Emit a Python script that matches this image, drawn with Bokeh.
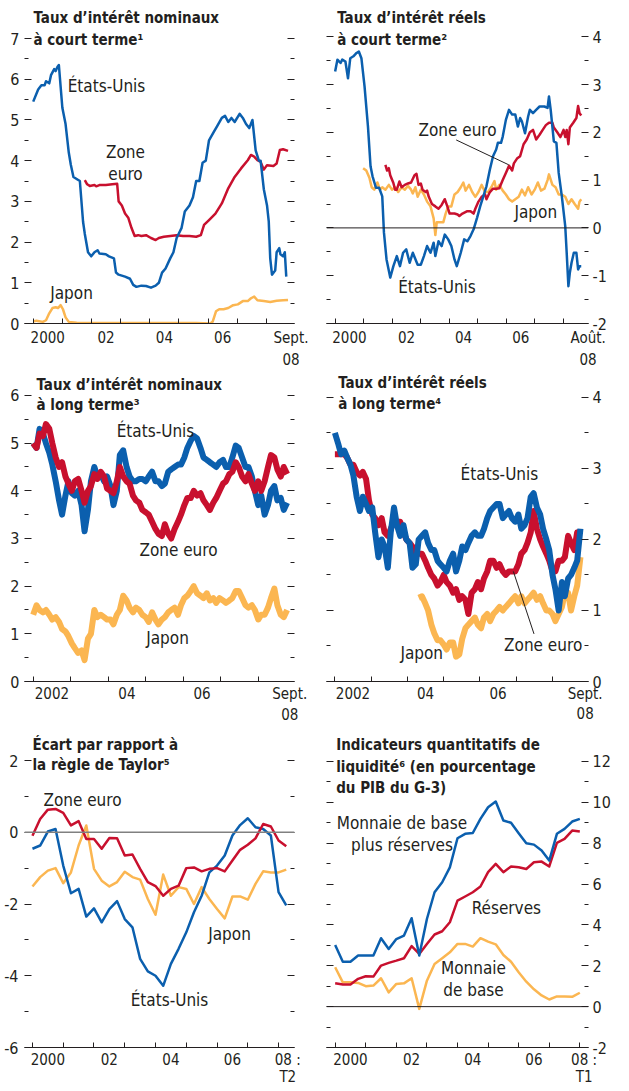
from bokeh.plotting import figure
from bokeh.layouts import gridplot
from bokeh.models import Range1d, LinearAxis, FixedTicker, Label, Span, CustomJSTickFormatter
from bokeh.embed import file_html
from bokeh.resources import INLINE

FONT = "DejaVu Sans Condensed, Liberation Sans, sans-serif"
INK = "#231f20"
BLUE = "#0b5fae"
RED = "#c8102e"
YELLOW = "#fbb651"

# ---------------- Panel 1 : short-term nominal rates ----------------
p1_us_t = [2000.00, 2000.17, 2000.28, 2000.39, 2000.44, 2000.55, 2000.61, 2000.72, 2000.77, 2000.83,
           2000.88, 2001.00, 2001.11, 2001.22, 2001.29, 2001.38, 2001.49, 2001.60, 2001.71, 2001.77,
           2001.88, 2001.99, 2002.10, 2002.21, 2002.27, 2002.49, 2002.60, 2002.77, 2002.84, 2002.93,
           2003.15, 2003.32, 2003.43, 2003.54, 2003.71, 2003.87, 2004.04, 2004.20, 2004.31, 2004.42,
           2004.54, 2004.70, 2004.81, 2004.92, 2005.09, 2005.20, 2005.36, 2005.48, 2005.59, 2005.70,
           2005.81, 2005.92, 2006.03, 2006.19, 2006.31, 2006.47, 2006.58, 2006.69, 2006.80, 2006.91,
           2007.08, 2007.19, 2007.30, 2007.41, 2007.52, 2007.63, 2007.74, 2007.80, 2007.91, 2008.02,
           2008.08, 2008.13, 2008.19, 2008.30, 2008.35, 2008.44, 2008.48, 2008.57, 2008.63, 2008.68]
p1_us_v = [5.45, 5.75, 5.85, 5.85, 5.95, 5.9, 6.1, 6.25, 6.2, 6.3,
           6.35, 5.3, 4.9, 4.2, 3.9, 3.6, 3.55, 3.5, 2.5, 2.2,
           1.75, 1.65, 1.75, 1.8, 1.72, 1.7, 1.65, 1.6, 1.25, 1.2,
           1.15, 1.1, 0.95, 0.9, 0.93, 0.92, 0.88, 0.93, 1.0, 1.25,
           1.35, 1.6, 1.75, 2.1, 2.35, 2.75, 2.9, 3.1, 3.5, 3.5,
           3.95, 4.0, 4.5, 4.7, 4.85, 5.05, 5.1, 4.95, 5.05, 4.95,
           5.15, 5.05, 4.9, 4.8, 5.0, 4.25, 4.0, 4.0, 3.3, 2.9,
           2.5, 1.6, 1.2, 1.3, 1.75, 1.85, 1.7, 1.65, 1.75, 1.15]
p1_eu_t = [2001.77, 2001.85, 2001.94, 2002.10, 2002.16, 2002.27, 2002.49, 2002.71, 2002.88, 2002.93,
           2003.04, 2003.15, 2003.26, 2003.37, 2003.48, 2003.60, 2003.71, 2003.87, 2004.04, 2004.20,
           2004.31, 2004.48, 2004.70, 2004.92, 2005.14, 2005.36, 2005.59, 2005.75, 2005.86, 2006.03,
           2006.25, 2006.47, 2006.69, 2006.91, 2007.13, 2007.36, 2007.47, 2007.58, 2007.69, 2007.80,
           2007.91, 2008.02, 2008.24, 2008.35, 2008.46, 2008.57, 2008.74]
p1_eu_v = [3.52, 3.42, 3.38, 3.40, 3.37, 3.40, 3.40, 3.42, 3.43, 3.0,
           2.9, 2.7, 2.6, 2.35, 2.15, 2.17, 2.15, 2.17, 2.1, 2.05,
           2.1, 2.13, 2.15, 2.17, 2.15, 2.15, 2.13, 2.17, 2.42, 2.54,
           2.7, 2.95, 3.32, 3.6, 3.81, 4.01, 4.14, 4.1, 4.01, 3.97,
           3.78, 3.89, 3.87, 3.93, 4.26, 4.28, 4.24]
p1_jp_t = [2000.00, 2000.11, 2000.33, 2000.44, 2000.55, 2000.66, 2000.77, 2000.85, 2000.94, 2001.02,
           2001.11, 2001.22, 2001.49, 2002.27, 2003.37, 2004.48, 2005.59, 2006.08, 2006.16, 2006.27,
           2006.38, 2006.53, 2006.69, 2006.86, 2007.02, 2007.19, 2007.36, 2007.47, 2007.58, 2007.69,
           2007.91, 2008.13, 2008.35, 2008.57, 2008.74]
p1_jp_v = [0.05, 0.07, 0.04, 0.08, 0.25, 0.38, 0.4, 0.38, 0.45, 0.35,
           0.15, 0.04, 0.02, 0.01, 0.01, 0.01, 0.01, 0.0, 0.05, 0.3,
           0.35, 0.35, 0.38, 0.45, 0.47, 0.55, 0.55, 0.62, 0.66, 0.57,
           0.55, 0.53, 0.56, 0.57, 0.58]

# ---------------- Panel 2 : short-term real rates ----------------
p2_us_t = [2000.00, 2000.08, 2000.19, 2000.25, 2000.36, 2000.45, 2000.53, 2000.64, 2000.75, 2000.83,
           2000.92, 2001.03, 2001.15, 2001.24, 2001.31, 2001.43, 2001.54, 2001.65, 2001.71, 2001.80,
           2001.93, 2002.04, 2002.16, 2002.27, 2002.38, 2002.49, 2002.61, 2002.72, 2002.89, 2003.00,
           2003.11, 2003.22, 2003.34, 2003.45, 2003.51, 2003.62, 2003.73, 2003.84, 2003.96, 2004.07,
           2004.18, 2004.26, 2004.40, 2004.52, 2004.63, 2004.74, 2004.85, 2004.97, 2005.08, 2005.19,
           2005.30, 2005.42, 2005.53, 2005.64, 2005.70, 2005.81, 2005.87, 2005.98, 2006.09, 2006.20,
           2006.31, 2006.40, 2006.48, 2006.54, 2006.65, 2006.76, 2006.82, 2006.93, 2007.04, 2007.16,
           2007.33, 2007.44, 2007.49, 2007.55, 2007.66, 2007.75, 2007.83, 2007.94, 2008.06, 2008.11,
           2008.17, 2008.22, 2008.28, 2008.36, 2008.45, 2008.51, 2008.56, 2008.62]
p2_us_v = [3.27, 3.52, 3.45, 3.52, 3.48, 3.13, 3.55, 3.59, 3.66, 3.69,
           3.55, 2.96, 2.12, 1.29, 1.08, 0.84, 0.84, 0.66, -0.1, -0.66,
           -1.04, -0.8, -0.59, -0.8, -0.52, -0.45, -0.73, -0.52, -0.77, -0.77,
           -0.59, -0.38, -0.52, -0.31, -0.59, -0.28, -0.38, -0.14, -0.24, -0.38,
           -0.66, -0.8, -0.52, -0.24, -0.28, -0.17, -0.03, 0.21, 0.45, 0.66,
           0.87, 1.22, 1.5, 1.64, 1.78, 1.78, 1.91, 2.26, 2.47, 2.37,
           2.37, 2.12, 2.3, 2.23, 1.98, 2.33, 2.47, 2.4, 2.47, 2.54,
           2.54, 2.51, 2.75, 2.47, 1.81, 1.78, 1.15, 0.66, 0.03, -0.52,
           -1.22, -0.94, -0.73, -0.52, -0.52, -0.87, -0.8, -0.8]
p2_eu_t = [2001.76, 2001.82, 2001.88, 2001.93, 2002.04, 2002.10, 2002.16, 2002.25, 2002.33, 2002.44,
           2002.55, 2002.66, 2002.78, 2002.85, 2002.92, 2003.00, 2003.06, 2003.17, 2003.22, 2003.28,
           2003.39, 2003.51, 2003.62, 2003.73, 2003.84, 2003.93, 2004.01, 2004.18, 2004.29, 2004.35,
           2004.46, 2004.63, 2004.74, 2004.85, 2004.91, 2005.02, 2005.13, 2005.25, 2005.30, 2005.42,
           2005.53, 2005.64, 2005.75, 2005.87, 2005.98, 2006.09, 2006.20, 2006.26, 2006.37, 2006.48,
           2006.60, 2006.71, 2006.82, 2006.93, 2007.04, 2007.16, 2007.27, 2007.38, 2007.49, 2007.61,
           2007.66, 2007.78, 2007.89, 2008.00, 2008.06, 2008.11, 2008.17, 2008.22, 2008.34, 2008.45,
           2008.51, 2008.56, 2008.62]
p2_eu_v = [1.32, 1.2, 1.25, 1.1, 0.94, 0.8, 0.8, 0.97, 0.85, 0.9,
           0.93, 0.95, 1.1, 1.13, 0.9, 0.93, 0.8, 0.75, 0.78, 0.65,
           0.5, 0.45, 0.4, 0.48, 0.6, 0.45, 0.3, 0.3, 0.28, 0.25,
           0.3, 0.35, 0.35, 0.3, 0.4, 0.55, 0.65, 0.7, 0.6, 0.75,
           0.82, 0.82, 0.83, 1.0, 1.15, 1.3, 1.2, 1.35, 1.45, 1.5,
           1.75, 1.85, 2.0, 2.05, 1.85, 1.95, 2.05, 2.15, 2.2, 2.2,
           2.1, 2.0, 1.9, 2.05, 1.9, 2.05, 1.75, 2.1, 2.2, 2.3,
           2.55, 2.4, 2.35]
p2_jp_t = [2000.98, 2001.09, 2001.20, 2001.28, 2001.37, 2001.48, 2001.57, 2001.65, 2001.76, 2001.88,
           2001.99, 2002.10, 2002.21, 2002.33, 2002.44, 2002.55, 2002.66, 2002.72, 2002.81, 2002.89,
           2003.00, 2003.11, 2003.22, 2003.34, 2003.45, 2003.51, 2003.56, 2003.67, 2003.79, 2003.87,
           2003.96, 2004.07, 2004.18, 2004.29, 2004.40, 2004.49, 2004.57, 2004.69, 2004.80, 2004.91,
           2005.02, 2005.13, 2005.25, 2005.36, 2005.47, 2005.58, 2005.64, 2005.75, 2005.87, 2005.98,
           2006.09, 2006.20, 2006.31, 2006.43, 2006.54, 2006.65, 2006.76, 2006.88, 2006.99, 2007.10,
           2007.21, 2007.33, 2007.44, 2007.49, 2007.61, 2007.72, 2007.83, 2007.94, 2008.06, 2008.17,
           2008.28, 2008.39, 2008.51, 2008.56, 2008.62]
p2_jp_v = [1.25, 1.2, 1.05, 0.85, 0.8, 0.95, 0.8, 0.85, 0.8, 0.9,
           0.8, 0.85, 0.75, 0.85, 0.8, 0.88, 0.8, 0.72, 0.85, 0.65,
           0.8, 0.7, 0.55, 0.45, 0.2, -0.15, 0.12, 0.12, 0.12, 0.3,
           0.45, 0.45, 0.7, 0.75, 0.85, 0.95, 0.78, 0.9, 0.75, 0.65,
           0.75, 0.9, 0.75, 0.75, 0.85, 0.98, 0.8, 0.9, 0.78, 0.7,
           0.6, 0.55, 0.6, 0.65, 0.8, 0.68, 0.85, 0.7, 0.8, 0.95,
           0.78, 0.82, 1.0, 1.12, 0.9, 0.85, 0.7, 0.7, 0.65, 0.5,
           0.6, 0.5, 0.4, 0.55, 0.6]

# ---------------- Panels 3 and 4 : long-term rates (shared dates) ----------------
long_t = [2002.00, 2002.09, 2002.17, 2002.26, 2002.34, 2002.43, 2002.51, 2002.60, 2002.69, 2002.77,
          2002.86, 2002.94, 2003.03, 2003.11, 2003.20, 2003.29, 2003.37, 2003.46, 2003.54, 2003.63,
          2003.71, 2003.80, 2003.89, 2003.97, 2004.06, 2004.14, 2004.23, 2004.31, 2004.40, 2004.49,
          2004.57, 2004.66, 2004.74, 2004.83, 2004.91, 2005.00, 2005.08, 2005.17, 2005.26, 2005.34,
          2005.43, 2005.51, 2005.60, 2005.68, 2005.77, 2005.86, 2005.94, 2006.03, 2006.11, 2006.20,
          2006.28, 2006.37, 2006.46, 2006.54, 2006.63, 2006.71, 2006.80, 2006.88, 2006.97, 2007.06,
          2007.14, 2007.23, 2007.31, 2007.40, 2007.48, 2007.57, 2007.66, 2007.74, 2007.83, 2007.91,
          2008.00, 2008.08, 2008.17, 2008.26, 2008.34, 2008.43, 2008.51, 2008.60, 2008.68, 2008.77]
p3_us = [5.0, 4.9, 5.3, 5.2, 5.0, 4.8, 4.55, 4.2, 3.8, 3.5,
         3.9, 4.2, 3.95, 3.9, 4.0, 3.7, 3.15, 3.6, 4.2, 4.5,
         4.3, 4.35, 4.2, 4.3, 4.1, 3.7, 4.0, 4.75, 4.85, 4.5,
         4.3, 4.2, 4.2, 4.25, 4.25, 4.2, 4.3, 4.4, 4.2, 4.2,
         4.1, 4.15, 4.4, 4.45, 4.5, 4.55, 4.55, 4.7, 4.9, 5.05,
         5.15, 5.1, 4.9, 4.7, 4.65, 4.6, 4.55, 4.5, 4.6, 4.65,
         4.5, 4.5, 4.7, 4.95, 4.9, 4.7, 4.5, 4.5, 4.3, 4.0,
         3.7, 3.9, 3.5, 3.7, 4.0, 4.1, 3.8, 3.85, 3.6, 3.75]
p3_eu = [5.0, 4.9, 5.2, 5.15, 5.4, 5.3, 5.0, 4.7, 4.5, 4.6,
         4.3, 4.15, 4.0, 4.2, 4.25, 4.0, 3.75, 4.0, 4.1, 4.35,
         4.25, 4.4, 4.3, 4.05, 4.0, 3.95, 4.2, 4.5, 4.3, 4.2,
         4.15, 3.9, 3.8, 3.75, 3.6, 3.55, 3.5, 3.35, 3.2, 3.1,
         3.05, 3.3, 3.1, 3.0, 3.2, 3.35, 3.5, 3.7, 3.85, 3.85,
         4.0, 3.9, 3.95, 3.8, 3.7, 3.6, 3.75, 3.85, 4.0, 4.15,
         4.2, 4.35, 4.4, 4.6, 4.5, 4.3, 4.2, 4.35, 4.15, 4.0,
         4.2, 4.0, 4.2, 4.5, 4.75, 4.7, 4.45, 4.3, 4.5, 4.35]
p3_jp = [1.4, 1.6, 1.5, 1.45, 1.5, 1.4, 1.3, 1.35, 1.25, 1.1,
         1.05, 0.95, 0.8, 0.7, 0.6, 0.65, 0.45, 0.9, 1.0, 1.5,
         1.35, 1.4, 1.35, 1.3, 1.3, 1.2, 1.4, 1.5, 1.8, 1.7,
         1.55, 1.45, 1.55, 1.5, 1.4, 1.35, 1.25, 1.45, 1.3, 1.2,
         1.3, 1.35, 1.45, 1.5, 1.55, 1.4, 1.6, 1.75, 1.8, 1.9,
         2.0, 1.85, 1.8, 1.75, 1.85, 1.7, 1.75, 1.65, 1.75, 1.7,
         1.65, 1.7, 1.75, 1.9, 1.9, 1.75, 1.6, 1.55, 1.6, 1.5,
         1.3, 1.4, 1.4, 1.55, 1.75, 1.95, 1.6, 1.4, 1.35, 1.5]
p4_us = [3.5, 3.35, 3.2, 3.25, 3.15, 3.05, 2.9, 2.6, 2.4, 2.6,
         2.5, 2.4, 2.45, 2.1, 1.75, 2.0, 1.9, 1.6, 2.1, 2.45,
         2.2, 2.05, 2.2, 2.0, 1.95, 1.6, 1.65, 2.0, 2.05, 2.1,
         1.95, 1.85, 1.85, 1.7, 1.65, 1.6, 1.55, 1.7, 1.8, 1.55,
         1.7, 1.9, 1.85, 1.95, 2.05, 2.1, 2.05, 2.05, 2.15, 2.3,
         2.4, 2.45, 2.5, 2.5, 2.3, 2.35, 2.4, 2.3, 2.25, 2.35,
         2.15, 2.2, 2.3, 2.6, 2.65, 2.45, 2.35, 2.15, 2.0, 1.85,
         1.5, 1.3, 1.0, 1.4, 1.2, 1.45, 1.5, 1.6, 1.7, 2.15]
p4_eu = [3.2, 3.2, 3.2, 3.2, 3.15, 3.05, 3.05, 2.95, 2.9, 2.95,
         2.85, 2.55, 2.35, 2.3, 2.2, 2.3, 2.1, 2.05, 2.15, 2.25,
         2.25, 2.25, 2.1, 2.0, 1.95, 1.9, 1.8, 1.8, 1.8, 1.7,
         1.6, 1.5, 1.45, 1.35, 1.4, 1.5, 1.4, 1.35, 1.25, 1.3,
         1.15, 1.2, 1.15, 0.95, 1.25, 1.3, 1.4, 1.3, 1.45, 1.55,
         1.7, 1.7, 1.6, 1.65, 1.55, 1.5, 1.55, 1.55, 1.55, 1.65,
         1.8, 1.85, 1.95, 2.1, 2.4, 2.15, 2.0, 1.9, 1.8, 1.7,
         1.55, 1.55, 1.7, 1.7, 1.75, 2.05, 1.95, 1.85, 2.1, 2.1]
p4_jp_start = 27  # the Japanese series starts in 2004 (index into long_t)
p4_jp = [1.18, 1.2, 1.1,
         1.0, 0.8, 0.68, 0.58, 0.58, 0.52, 0.45, 0.55, 0.55, 0.35,
         0.38, 0.6, 0.75, 0.8, 0.85, 0.9, 0.8, 0.75, 0.9, 0.95,
         0.85, 0.95, 1.0, 1.05, 1.0, 1.05, 1.1, 1.15, 1.2, 1.1,
         1.2, 1.1, 1.15, 1.2, 1.25, 1.15, 1.2, 1.1, 1.0, 1.0,
         0.95, 0.85, 0.95, 1.05, 1.25, 1.25, 1.0, 1.2, 1.35, 1.75]

# ---------------- Panel 5 : Taylor-rule gap (quarterly 2000T1-2008T2) ----------------
q5 = [2000.00, 2000.25, 2000.50, 2000.75, 2001.00, 2001.25, 2001.50, 2001.75, 2002.00, 2002.25,
      2002.50, 2002.75, 2003.00, 2003.25, 2003.50, 2003.75, 2004.00, 2004.25, 2004.50, 2004.75,
      2005.00, 2005.25, 2005.50, 2005.75, 2006.00, 2006.25, 2006.50, 2006.75, 2007.00, 2007.25,
      2007.50, 2007.75, 2008.00, 2008.25]
p5_eu = [-0.1, 0.37, 0.63, 0.65, 0.54, 0.19, 0.31, -0.19, -0.19, -0.46,
         -0.16, -0.17, -0.65, -0.62, -1.02, -1.39, -1.5, -1.77, -1.58, -1.49,
         -1.0, -0.98, -1.09, -1.02, -1.0, -1.09, -0.79, -0.49, -0.35, -0.17,
         0.23, 0.16, -0.23, -0.39]
p5_us = [-0.46, -0.37, 0.02, 0.09, -0.93, -1.7, -1.58, -2.35, -2.12, -2.51,
         -2.14, -1.92, -2.42, -2.65, -3.53, -3.88, -4.0, -4.28, -3.67, -3.25,
         -2.79, -2.23, -1.77, -1.12, -0.93, -0.65, -0.09, 0.2, 0.39, 0.14,
         0.09, -0.09, -1.67, -2.04]
p5_jp = [-1.51, -1.25, -1.07, -1.0, -1.42, -1.12, -0.37, 0.19, -1.02, -1.35,
         -1.51, -1.39, -1.1, -1.25, -1.32, -1.86, -2.3, -1.18, -1.77, -1.53,
         -1.58, -2.0, -1.53, -1.86, -2.14, -2.4, -1.79, -1.79, -1.88, -1.44,
         -1.09, -1.12, -1.12, -1.04]

# ---------------- Panel 6 : liquidity (quarterly 2000T1-2008T1) ----------------
q6 = q5[:-1]
p6_total = [3.02, 2.2, 2.2, 2.5, 2.5, 2.5, 3.35, 2.82, 3.31, 3.48,
            4.33, 2.5, 4.29, 5.6, 6.09, 6.82, 8.24, 8.46, 8.5, 9.19,
            9.76, 10.04, 9.11, 9.0, 8.49, 8.0, 7.93, 7.64, 7.15, 8.46,
            8.7, 9.06, 9.19]
p6_res = [1.14, 1.08, 1.08, 1.36, 1.49, 1.47, 2.01, 2.14, 2.25, 2.37,
          2.96, 2.58, 3.07, 3.53, 3.69, 4.13, 5.19, 5.39, 5.6, 5.88,
          6.58, 6.99, 6.58, 6.86, 6.82, 6.74, 7.07, 7.1, 6.86, 8.02,
          8.21, 8.62, 8.57]
p6_base = [1.93, 1.19, 1.19, 1.16, 1.0, 1.03, 1.39, 0.7, 1.11, 1.14,
           1.39, -0.11, 1.27, 2.09, 2.37, 2.66, 3.07, 3.07, 2.94, 3.35,
           3.18, 3.05, 2.53, 2.2, 1.68, 1.22, 0.85, 0.55, 0.35, 0.5,
           0.5, 0.48, 0.68]

# ---------------- layout geometry (page pixels) ----------------
# ox/oy: page position of each figure; rfl/rfr: reference frame edges; fl/fr: drawn frame edges
GEOM = {
    1: dict(ox=8, oy=0, W=308, H=374, rfl=23, rfr=302, fl=23, fr=302, fb=323,
            ay=2000, apx=32, ppy=30.125, vb=0, ppu=40.71),
    2: dict(ox=316, oy=0, W=305, H=374, rfl=340, rfr=613, fl=334, fr=601, fb=323,
            ay=2000, apx=349, ppy=29.75, vb=-2, ppu=47.8),
    3: dict(ox=8, oy=374, W=308, H=356, rfl=23, rfr=303, fl=23, fr=303, fb=681,
            ay=2002, apx=32, ppy=38.9, vb=0, ppu=47.67),
    4: dict(ox=316, oy=374, W=305, H=356, rfl=339, rfr=620, fl=333, fr=606, fb=683,
            ay=2002, apx=348, ppy=38.9, vb=0, ppu=71.5),
    5: dict(ox=8, oy=730, W=308, H=361, rfl=32, rfr=303, fl=32, fr=303, fb=1047,
            ay=2000, apx=40, ppy=30.875, vb=-6, ppu=35.875),
    6: dict(ox=316, oy=730, W=305, H=361, rfl=340, rfr=612, fl=334, fr=597, fb=1047,
            ay=2000, apx=349, ppy=31.75, vb=-2, ppu=20.43),
}

YTICK_SIZE = "16px"
XTICK_SIZE = "15px"


def build(key, year_bounds, xlabels, x_standoff, x_lh, ymaj, ymin, label_side, y_standoff):
    g = GEOM[key]
    x0 = g["ay"] - (g["apx"] - g["rfl"]) / g["ppy"]
    x1 = g["ay"] + (g["rfr"] - g["apx"]) / g["ppy"]
    y0 = g["vb"]
    y1 = g["vb"] + (g["fb"] - g["oy"]) / g["ppu"]
    p = figure(width=g["W"], height=g["H"], x_range=Range1d(x0, x1), y_range=Range1d(y0, y1),
               output_backend="svg", toolbar_location=None,
               min_border_left=g["fl"] - g["ox"], min_border_right=g["ox"] + g["W"] - g["fr"],
               min_border_top=0, min_border_bottom=g["oy"] + g["H"] - g["fb"])
    p.grid.visible = False
    p.outline_line_color = None
    p.background_fill_color = "white"
    p.border_fill_color = "white"
    blank = CustomJSTickFormatter(code="return '';")
    plain = CustomJSTickFormatter(code="return String(tick);")

    xa = p.xaxis[0]
    xa.ticker = FixedTicker(ticks=[t for t, _ in xlabels], minor_ticks=year_bounds)
    xa.major_label_overrides = {t: s for t, s in xlabels}
    xa.major_tick_line_color = None
    xa.major_tick_in = 0
    xa.major_tick_out = 0
    xa.minor_tick_in = 5
    xa.minor_tick_out = 0
    xa.minor_tick_line_color = INK
    xa.axis_line_color = INK
    xa.axis_line_width = 1.2
    xa.major_label_standoff = x_standoff
    xa.major_label_text_font = FONT
    xa.major_label_text_font_size = XTICK_SIZE
    xa.major_label_text_color = INK
    xa.major_label_text_line_height = x_lh

    ra = LinearAxis()
    p.add_layout(ra, "right")
    for side, a in (("left", p.yaxis[0]), ("right", ra)):
        a.ticker = FixedTicker(ticks=ymaj, minor_ticks=ymin)
        a.axis_line_color = None
        a.major_tick_in = 7
        a.major_tick_out = 0
        a.minor_tick_in = 4
        a.minor_tick_out = 0
        a.major_tick_line_color = INK
        a.minor_tick_line_color = INK
        if side == label_side:
            a.formatter = plain
            a.major_label_standoff = y_standoff
            a.major_label_text_font = FONT
            a.major_label_text_font_size = YTICK_SIZE
            a.major_label_text_color = INK
        else:
            a.formatter = blank
            a.major_label_standoff = 0
    return p


def put(p, key, text, px, py, size=17, bold=False, align="center", baseline="middle"):
    """Place a text given its position in the reference picture (page pixels)."""
    g = GEOM[key]
    sc = (g["fr"] - g["fl"]) / (g["rfr"] - g["rfl"])
    p.add_layout(Label(x=(px - g["rfl"]) * sc, y=g["fb"] - py, x_units="screen", y_units="screen",
                       text=text, text_font=FONT, text_font_size=f"{size}px",
                       text_font_style="bold" if bold else "normal", text_color=INK,
                       text_align=align, text_baseline=baseline))


def title(p, key, x, lines):
    for text, y in lines:
        put(p, key, text, x, y, size=15, bold=True, align="left")


years00 = [2000, 2001, 2002, 2003, 2004, 2005, 2006, 2007, 2008]
years02 = [2002, 2003, 2004, 2005, 2006, 2007, 2008]


def halves(a, b):
    return [a + 0.5 + i for i in range(b - a)]


# ---- Panel 1
p1 = build(1, years00, [(2000.5, "2000"), (2002.5, "02"), (2004.5, "04"), (2006.5, "06"),
                        (2008.88, "Sept.\n08")], 5, 1.25,
           list(range(0, 8)), halves(0, 7), "left", 5)
p1.line(p1_jp_t, p1_jp_v, line_color=YELLOW, line_width=2.5, line_join="round")
p1.line(p1_eu_t, p1_eu_v, line_color=RED, line_width=2.5, line_join="round")
p1.line(p1_us_t, p1_us_v, line_color=BLUE, line_width=2.5, line_join="round")
title(p1, 1, 32, [("Taux d’intérêt nominaux", 17.5), ("à court terme¹", 39)])
put(p1, 1, "États-Unis", 105, 85)
put(p1, 1, "Zone", 124, 151)
put(p1, 1, "euro", 124, 173)
put(p1, 1, "Japon", 70, 292)

# ---- Panel 2
p2 = build(2, years00, [(2000.5, "2000"), (2002.5, "02"), (2004.5, "04"), (2006.5, "06"),
                        (2008.86, "Août.\n08")], 5, 1.25,
           list(range(-2, 5)), halves(-2, 4), "right", 4)
p2.add_layout(Span(location=0, dimension="width", line_color=INK, line_width=1))
p2.line(p2_jp_t, p2_jp_v, line_color=YELLOW, line_width=2.5, line_join="round")
p2.line(p2_eu_t, p2_eu_v, line_color=RED, line_width=2.5, line_join="round")
p2.line(p2_us_t, p2_us_v, line_color=BLUE, line_width=2.5, line_join="round")
p2.segment(x0=[2004.24], y0=[1.84], x1=[2006.08], y1=[1.32], line_color=INK, line_width=1)
title(p2, 2, 351, [("Taux d’intérêt réels", 17.5), ("à court terme²", 39)])
put(p2, 2, "Zone euro", 474, 129)
put(p2, 2, "Japon", 554, 211)
put(p2, 2, "États-Unis", 453, 286)

# ---- Panel 3
p3 = build(3, years02, [(2002.5, "2002"), (2004.5, "04"), (2006.5, "06"), (2008.84, "Sept.\n08")],
           3, 1.2, list(range(0, 7)), halves(0, 6), "left", 5)
p3.line(long_t, p3_jp, line_color=YELLOW, line_width=6, line_join="round")
p3.line(long_t, p3_us, line_color=BLUE, line_width=6, line_join="round")
p3.line(long_t, p3_eu, line_color=RED, line_width=6, line_join="round")
title(p3, 3, 35, [("Taux d’intérêt nominaux", 384), ("à long terme³", 404)])
put(p3, 3, "États-Unis", 154, 430)
put(p3, 3, "Zone euro", 177, 549)
put(p3, 3, "Japon", 166, 637)

# ---- Panel 4
p4 = build(4, years02, [(2002.5, "2002"), (2004.5, "04"), (2006.5, "06"), (2008.9, "Sept.\n08")],
           3, 1.15, list(range(0, 5)), halves(0, 4), "right", 4)
p4.line(long_t[p4_jp_start:], p4_jp, line_color=YELLOW, line_width=6, line_join="round")
p4.line(long_t, p4_eu, line_color=RED, line_width=6, line_join="round")
p4.line(long_t, p4_us, line_color=BLUE, line_width=6, line_join="round")
p4.segment(x0=[2006.92], y0=[1.55], x1=[2007.49], y1=[0.67], line_color=INK, line_width=1)
title(p4, 4, 351, [("Taux d’intérêt réels", 384), ("à long terme⁴", 405)])
put(p4, 4, "États-Unis", 517, 475)
put(p4, 4, "Zone euro", 562, 646)
put(p4, 4, "Japon", 437, 654)

# ---- Panel 5
p5 = build(5, years00, [(2000.5, "2000"), (2002.5, "02"), (2004.5, "04"), (2006.5, "06"),
                        (2008.3, "08 :\nT2")], 3, 0.95,
           [-6, -4, -2, 0, 2], [-5, -3, -1, 1], "left", 6)
p5.add_layout(Span(location=0, dimension="width", line_color="#808080", line_width=1.5))
p5.line(q5, p5_jp, line_color=YELLOW, line_width=2.5, line_join="round")
p5.line(q5, p5_us, line_color=BLUE, line_width=2.5, line_join="round")
p5.line(q5, p5_eu, line_color=RED, line_width=2.5, line_join="round")
title(p5, 5, 40, [("Écart par rapport à", 744), ("la règle de Taylor⁵", 764)])
put(p5, 5, "Zone euro", 90, 799)
put(p5, 5, "Japon", 237, 933)
put(p5, 5, "États-Unis", 177, 999)

# ---- Panel 6
p6 = build(6, years00, [(2000.5, "2000"), (2002.5, "02"), (2004.5, "04"), (2006.5, "06"),
                        (2008.14, "08 :\nT1")], 3, 0.95,
           [-2, 0, 2, 4, 6, 8, 10, 12], [-1, 1, 3, 5, 7, 9, 11], "right", 4)
p6.add_layout(Span(location=0, dimension="width", line_color=INK, line_width=1))
p6.line(q6, p6_base, line_color=YELLOW, line_width=2.5, line_join="round")
p6.line(q6, p6_res, line_color=RED, line_width=2.5, line_join="round")
p6.line(q6, p6_total, line_color=BLUE, line_width=2.5, line_join="round")
title(p6, 6, 350, [("Indicateurs quantitatifs de", 744), ("liquidité⁶ (en pourcentage", 766),
                   ("du PIB du G-3)", 787)])
put(p6, 6, "Monnaie de base", 418, 822)
put(p6, 6, "plus réserves", 418, 844)
put(p6, 6, "Réserves", 526, 907)
put(p6, 6, "Monnaie", 492, 967)
put(p6, 6, "de base", 492, 989)

grid = gridplot([[p1, p2], [p3, p4], [p5, p6]], toolbar_location=None)
open("out.html", "w").write(file_html(grid, INLINE))
